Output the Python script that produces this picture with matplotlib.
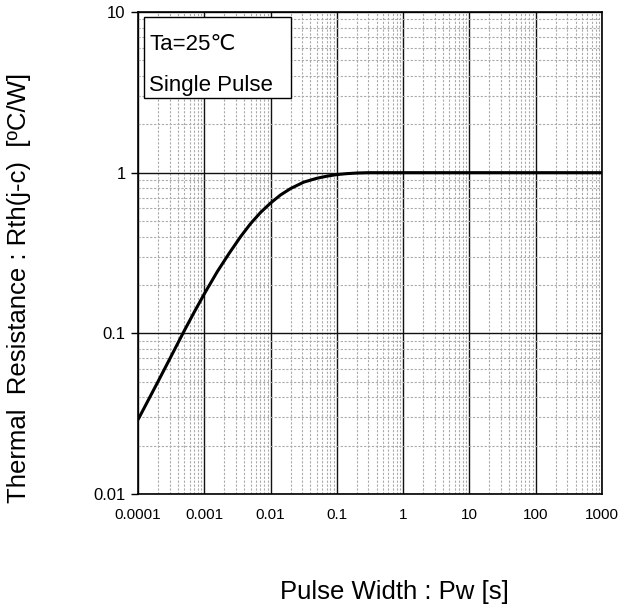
import matplotlib
matplotlib.use("Agg")
import matplotlib.pyplot as plt
from matplotlib.patches import Rectangle
from matplotlib.ticker import LogLocator, FixedLocator, NullFormatter

# ---- data ----
pulse_width = [1e-4, 2e-4, 3.16e-4, 5e-4, 7.08e-4, 1e-3, 1.58e-3, 2.4e-3,
               3.55e-3, 5e-3, 7.08e-3, 1e-2, 1.41e-2, 2e-2, 3.16e-2, 5e-2,
               7.08e-2, 0.1, 0.141, 0.2, 0.3, 1000]
rth = [0.029, 0.050, 0.072, 0.104, 0.136, 0.176, 0.243, 0.317,
       0.401, 0.482, 0.566, 0.647, 0.726, 0.796, 0.873, 0.923,
       0.951, 0.973, 0.986, 0.995, 1.0, 1.0]
x_ticks = [1e-4, 1e-3, 1e-2, 1e-1, 1, 10, 100, 1000]
x_tick_labels = ["0.0001", "0.001", "0.01", "0.1", "1", "10", "100", "1000"]
y_ticks = [0.01, 0.1, 1, 10]
y_tick_labels = ["0.01", "0.1", "1", "10"]
box_lines = ["Ta=25℃", "Single Pulse"]

plt.rcParams['font.family'] = ['Liberation Sans', 'DejaVu Sans']

W, H = 624, 609
fig = plt.figure(figsize=(W / 100, H / 100), dpi=100)
L, R, T, B = 138, 602, 12, 494
ax = fig.add_axes([L / W, 1 - B / H, (R - L) / W, (B - T) / H])

ax.plot(pulse_width, rth, color='black', lw=2.2, solid_capstyle='butt',
        solid_joinstyle='round', zorder=5)

ax.set_xscale('log')
ax.set_yscale('log')
ax.set_xlim(1e-4, 1000)
ax.set_ylim(0.01, 10)

ax.xaxis.set_major_locator(FixedLocator(x_ticks))
ax.set_xticklabels(x_tick_labels)
ax.yaxis.set_major_locator(FixedLocator(y_ticks))
ax.set_yticklabels(y_tick_labels)
ax.xaxis.set_minor_locator(LogLocator(base=10, subs=range(2, 10), numticks=20))
ax.yaxis.set_minor_locator(LogLocator(base=10, subs=range(2, 10), numticks=20))
ax.xaxis.set_minor_formatter(NullFormatter())
ax.yaxis.set_minor_formatter(NullFormatter())

ax.grid(which='major', color='#111111', lw=1.0, ls='-')
ax.grid(which='minor', color='#aaaaaa', lw=0.8, ls=(0, (2, 1.5)))
ax.set_axisbelow(True)

ax.tick_params(axis='x', which='both', length=0, labelsize=11, pad=10)
ax.tick_params(axis='y', which='major', length=5, width=1, direction='out',
               labelsize=12, pad=4)
ax.tick_params(axis='y', which='minor', length=0)
for s in ax.spines.values():
    s.set_linewidth(1.2)
    s.set_color('black')

# text box
bx0 = (144 - L) / (R - L)
bx1 = (291 - L) / (R - L)
by1 = (B - 17) / (B - T)
by0 = (B - 98) / (B - T)
ax.add_patch(Rectangle((bx0, by0), bx1 - bx0, by1 - by0, transform=ax.transAxes,
                       facecolor='white', edgecolor='black', lw=1.0, zorder=6))
tx = (149 - L) / (R - L)
ax.text(tx, (B - 45) / (B - T), box_lines[0], transform=ax.transAxes,
        fontsize=16, va='center', ha='left', zorder=7)
ax.text(tx, (B - 86) / (B - T), box_lines[1], transform=ax.transAxes,
        fontsize=16, va='center', ha='left', zorder=7)

fig.text(394.5 / W, 1 - 592 / H, "Pulse Width : Pw [s]", fontsize=18.5,
         ha='center', va='center')
fig.text(19 / W, 1 - 288 / H, "Thermal  Resistance : Rth(j-c)  [ºC/W]",
         fontsize=18.5, rotation=90, ha='center', va='center')

fig.savefig("out.png", dpi=100)
